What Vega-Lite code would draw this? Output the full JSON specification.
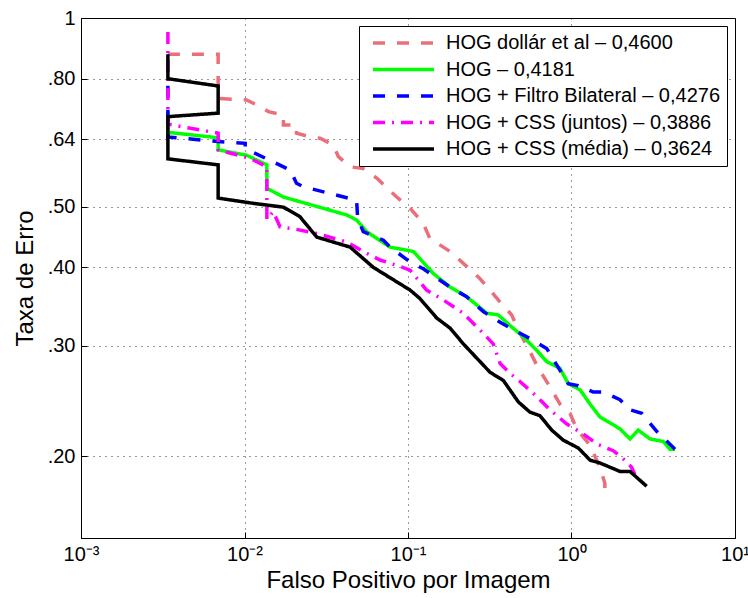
{
  "$schema": "https://vega.github.io/schema/vega-lite/v6.json",
  "width": 654,
  "height": 520,
  "autosize": {"type": "none"},
  "padding": {"left": 81, "top": 18, "right": 13, "bottom": 60},
  "background": "white",
  "config": {
    "font": "Liberation Sans",
    "view": {"stroke": "black", "strokeWidth": 1},
    "legend": {
      "orient": "top-right",
      "offset": 8,
      "padding": 6,
      "strokeColor": "black",
      "fillColor": "white",
      "symbolType": "stroke",
      "symbolSize": 3721,
      "symbolStrokeWidth": 3.5,
      "symbolOffset": 6,
      "clipHeight": 22,
      "labelFontSize": 20,
      "labelFont": "Liberation Sans",
      "labelColor": "black",
      "labelOffset": 10,
      "labelLimit": 500,
      "rowPadding": 4.5
    }
  },
  "data": {"values": [
    {"s": "HOG dollár et al – 0,4600", "i": 1, "x": 0.0034, "y": 0.875},
    {"s": "HOG dollár et al – 0,4600", "i": 2, "x": 0.0069, "y": 0.875},
    {"s": "HOG dollár et al – 0,4600", "i": 3, "x": 0.0069, "y": 0.744},
    {"s": "HOG dollár et al – 0,4600", "i": 4, "x": 0.0103, "y": 0.740},
    {"s": "HOG dollár et al – 0,4600", "i": 5, "x": 0.0125, "y": 0.722},
    {"s": "HOG dollár et al – 0,4600", "i": 6, "x": 0.0140, "y": 0.709},
    {"s": "HOG dollár et al – 0,4600", "i": 7, "x": 0.0173, "y": 0.700},
    {"s": "HOG dollár et al – 0,4600", "i": 8, "x": 0.0173, "y": 0.675},
    {"s": "HOG dollár et al – 0,4600", "i": 9, "x": 0.0208, "y": 0.675},
    {"s": "HOG dollár et al – 0,4600", "i": 10, "x": 0.0208, "y": 0.655},
    {"s": "HOG dollár et al – 0,4600", "i": 11, "x": 0.0252, "y": 0.646},
    {"s": "HOG dollár et al – 0,4600", "i": 12, "x": 0.0290, "y": 0.643},
    {"s": "HOG dollár et al – 0,4600", "i": 13, "x": 0.0349, "y": 0.627},
    {"s": "HOG dollár et al – 0,4600", "i": 14, "x": 0.0375, "y": 0.601},
    {"s": "HOG dollár et al – 0,4600", "i": 15, "x": 0.0442, "y": 0.579},
    {"s": "HOG dollár et al – 0,4600", "i": 16, "x": 0.0533, "y": 0.575},
    {"s": "HOG dollár et al – 0,4600", "i": 17, "x": 0.0646, "y": 0.555},
    {"s": "HOG dollár et al – 0,4600", "i": 18, "x": 0.0853, "y": 0.518},
    {"s": "HOG dollár et al – 0,4600", "i": 19, "x": 0.103, "y": 0.497},
    {"s": "HOG dollár et al – 0,4600", "i": 20, "x": 0.124, "y": 0.470},
    {"s": "HOG dollár et al – 0,4600", "i": 21, "x": 0.136, "y": 0.445},
    {"s": "HOG dollár et al – 0,4600", "i": 22, "x": 0.181, "y": 0.424},
    {"s": "HOG dollár et al – 0,4600", "i": 23, "x": 0.218, "y": 0.406},
    {"s": "HOG dollár et al – 0,4600", "i": 24, "x": 0.275, "y": 0.384},
    {"s": "HOG dollár et al – 0,4600", "i": 25, "x": 0.332, "y": 0.363},
    {"s": "HOG dollár et al – 0,4600", "i": 26, "x": 0.366, "y": 0.352},
    {"s": "HOG dollár et al – 0,4600", "i": 27, "x": 0.430, "y": 0.336},
    {"s": "HOG dollár et al – 0,4600", "i": 28, "x": 0.484, "y": 0.314},
    {"s": "HOG dollár et al – 0,4600", "i": 29, "x": 0.545, "y": 0.297},
    {"s": "HOG dollár et al – 0,4600", "i": 30, "x": 0.627, "y": 0.276},
    {"s": "HOG dollár et al – 0,4600", "i": 31, "x": 0.738, "y": 0.258},
    {"s": "HOG dollár et al – 0,4600", "i": 32, "x": 0.851, "y": 0.242},
    {"s": "HOG dollár et al – 0,4600", "i": 33, "x": 0.979, "y": 0.234},
    {"s": "HOG dollár et al – 0,4600", "i": 34, "x": 1.076, "y": 0.221},
    {"s": "HOG dollár et al – 0,4600", "i": 35, "x": 1.30, "y": 0.208},
    {"s": "HOG dollár et al – 0,4600", "i": 36, "x": 1.49, "y": 0.192},
    {"s": "HOG dollár et al – 0,4600", "i": 37, "x": 1.60, "y": 0.181},
    {"s": "HOG dollár et al – 0,4600", "i": 38, "x": 1.60, "y": 0.174},

    {"s": "HOG – 0,4181", "i": 1, "x": 0.0034, "y": 0.71},
    {"s": "HOG – 0,4181", "i": 2, "x": 0.0034, "y": 0.657},
    {"s": "HOG – 0,4181", "i": 3, "x": 0.0069, "y": 0.644},
    {"s": "HOG – 0,4181", "i": 4, "x": 0.0069, "y": 0.616},
    {"s": "HOG – 0,4181", "i": 5, "x": 0.0103, "y": 0.604},
    {"s": "HOG – 0,4181", "i": 6, "x": 0.0137, "y": 0.583},
    {"s": "HOG – 0,4181", "i": 7, "x": 0.0137, "y": 0.535},
    {"s": "HOG – 0,4181", "i": 8, "x": 0.0173, "y": 0.518},
    {"s": "HOG – 0,4181", "i": 9, "x": 0.0422, "y": 0.485},
    {"s": "HOG – 0,4181", "i": 10, "x": 0.0485, "y": 0.476},
    {"s": "HOG – 0,4181", "i": 11, "x": 0.0559, "y": 0.456},
    {"s": "HOG – 0,4181", "i": 12, "x": 0.0776, "y": 0.431},
    {"s": "HOG – 0,4181", "i": 13, "x": 0.108, "y": 0.424},
    {"s": "HOG – 0,4181", "i": 14, "x": 0.143, "y": 0.391},
    {"s": "HOG – 0,4181", "i": 15, "x": 0.181, "y": 0.372},
    {"s": "HOG – 0,4181", "i": 16, "x": 0.229, "y": 0.359},
    {"s": "HOG – 0,4181", "i": 17, "x": 0.303, "y": 0.338},
    {"s": "HOG – 0,4181", "i": 18, "x": 0.356, "y": 0.336},
    {"s": "HOG – 0,4181", "i": 19, "x": 0.421, "y": 0.323},
    {"s": "HOG – 0,4181", "i": 20, "x": 0.507, "y": 0.310},
    {"s": "HOG – 0,4181", "i": 21, "x": 0.612, "y": 0.295},
    {"s": "HOG – 0,4181", "i": 22, "x": 0.705, "y": 0.283},
    {"s": "HOG – 0,4181", "i": 23, "x": 0.851, "y": 0.276},
    {"s": "HOG – 0,4181", "i": 24, "x": 0.955, "y": 0.261},
    {"s": "HOG – 0,4181", "i": 25, "x": 1.13, "y": 0.255},
    {"s": "HOG – 0,4181", "i": 26, "x": 1.30, "y": 0.242},
    {"s": "HOG – 0,4181", "i": 27, "x": 1.49, "y": 0.231},
    {"s": "HOG – 0,4181", "i": 28, "x": 1.98, "y": 0.221},
    {"s": "HOG – 0,4181", "i": 29, "x": 2.28, "y": 0.213},
    {"s": "HOG – 0,4181", "i": 30, "x": 2.56, "y": 0.220},
    {"s": "HOG – 0,4181", "i": 31, "x": 3.02, "y": 0.213},
    {"s": "HOG – 0,4181", "i": 32, "x": 3.64, "y": 0.211},
    {"s": "HOG – 0,4181", "i": 33, "x": 4.00, "y": 0.205},
    {"s": "HOG – 0,4181", "i": 34, "x": 4.30, "y": 0.205},

    {"s": "HOG + Filtro Bilateral – 0,4276", "i": 1, "x": 0.0034, "y": 0.78},
    {"s": "HOG + Filtro Bilateral – 0,4276", "i": 2, "x": 0.0034, "y": 0.646},
    {"s": "HOG + Filtro Bilateral – 0,4276", "i": 3, "x": 0.0069, "y": 0.635},
    {"s": "HOG + Filtro Bilateral – 0,4276", "i": 4, "x": 0.0101, "y": 0.631},
    {"s": "HOG + Filtro Bilateral – 0,4276", "i": 5, "x": 0.0101, "y": 0.619},
    {"s": "HOG + Filtro Bilateral – 0,4276", "i": 6, "x": 0.0190, "y": 0.572},
    {"s": "HOG + Filtro Bilateral – 0,4276", "i": 7, "x": 0.0208, "y": 0.545},
    {"s": "HOG + Filtro Bilateral – 0,4276", "i": 8, "x": 0.0229, "y": 0.538},
    {"s": "HOG + Filtro Bilateral – 0,4276", "i": 9, "x": 0.0442, "y": 0.515},
    {"s": "HOG + Filtro Bilateral – 0,4276", "i": 10, "x": 0.0485, "y": 0.512},
    {"s": "HOG + Filtro Bilateral – 0,4276", "i": 11, "x": 0.0492, "y": 0.479},
    {"s": "HOG + Filtro Bilateral – 0,4276", "i": 12, "x": 0.0533, "y": 0.456},
    {"s": "HOG + Filtro Bilateral – 0,4276", "i": 13, "x": 0.0707, "y": 0.442},
    {"s": "HOG + Filtro Bilateral – 0,4276", "i": 14, "x": 0.0776, "y": 0.431},
    {"s": "HOG + Filtro Bilateral – 0,4276", "i": 15, "x": 0.103, "y": 0.408},
    {"s": "HOG + Filtro Bilateral – 0,4276", "i": 16, "x": 0.124, "y": 0.398},
    {"s": "HOG + Filtro Bilateral – 0,4276", "i": 17, "x": 0.181, "y": 0.372},
    {"s": "HOG + Filtro Bilateral – 0,4276", "i": 18, "x": 0.229, "y": 0.359},
    {"s": "HOG + Filtro Bilateral – 0,4276", "i": 19, "x": 0.289, "y": 0.340},
    {"s": "HOG + Filtro Bilateral – 0,4276", "i": 20, "x": 0.366, "y": 0.327},
    {"s": "HOG + Filtro Bilateral – 0,4276", "i": 21, "x": 0.484, "y": 0.314},
    {"s": "HOG + Filtro Bilateral – 0,4276", "i": 22, "x": 0.557, "y": 0.308},
    {"s": "HOG + Filtro Bilateral – 0,4276", "i": 23, "x": 0.705, "y": 0.297},
    {"s": "HOG + Filtro Bilateral – 0,4276", "i": 24, "x": 0.851, "y": 0.274},
    {"s": "HOG + Filtro Bilateral – 0,4276", "i": 25, "x": 0.955, "y": 0.261},
    {"s": "HOG + Filtro Bilateral – 0,4276", "i": 26, "x": 1.10, "y": 0.259},
    {"s": "HOG + Filtro Bilateral – 0,4276", "i": 27, "x": 1.36, "y": 0.253},
    {"s": "HOG + Filtro Bilateral – 0,4276", "i": 28, "x": 1.565, "y": 0.253},
    {"s": "HOG + Filtro Bilateral – 0,4276", "i": 29, "x": 1.98, "y": 0.246},
    {"s": "HOG + Filtro Bilateral – 0,4276", "i": 30, "x": 2.28, "y": 0.237},
    {"s": "HOG + Filtro Bilateral – 0,4276", "i": 31, "x": 2.69, "y": 0.234},
    {"s": "HOG + Filtro Bilateral – 0,4276", "i": 32, "x": 3.32, "y": 0.219},
    {"s": "HOG + Filtro Bilateral – 0,4276", "i": 33, "x": 4.30, "y": 0.205},

    {"s": "HOG + CSS (juntos) – 0,3886", "i": 1, "x": 0.0034, "y": 0.95},
    {"s": "HOG + CSS (juntos) – 0,3886", "i": 2, "x": 0.0034, "y": 0.677},
    {"s": "HOG + CSS (juntos) – 0,3886", "i": 3, "x": 0.0069, "y": 0.655},
    {"s": "HOG + CSS (juntos) – 0,3886", "i": 4, "x": 0.0069, "y": 0.616},
    {"s": "HOG + CSS (juntos) – 0,3886", "i": 5, "x": 0.0108, "y": 0.597},
    {"s": "HOG + CSS (juntos) – 0,3886", "i": 6, "x": 0.0137, "y": 0.579},
    {"s": "HOG + CSS (juntos) – 0,3886", "i": 7, "x": 0.0137, "y": 0.477},
    {"s": "HOG + CSS (juntos) – 0,3886", "i": 8, "x": 0.0150, "y": 0.491},
    {"s": "HOG + CSS (juntos) – 0,3886", "i": 9, "x": 0.0165, "y": 0.464},
    {"s": "HOG + CSS (juntos) – 0,3886", "i": 10, "x": 0.0208, "y": 0.460},
    {"s": "HOG + CSS (juntos) – 0,3886", "i": 11, "x": 0.0277, "y": 0.453},
    {"s": "HOG + CSS (juntos) – 0,3886", "i": 12, "x": 0.0422, "y": 0.439},
    {"s": "HOG + CSS (juntos) – 0,3886", "i": 13, "x": 0.0533, "y": 0.424},
    {"s": "HOG + CSS (juntos) – 0,3886", "i": 14, "x": 0.0675, "y": 0.411},
    {"s": "HOG + CSS (juntos) – 0,3886", "i": 15, "x": 0.0853, "y": 0.403},
    {"s": "HOG + CSS (juntos) – 0,3886", "i": 16, "x": 0.103, "y": 0.396},
    {"s": "HOG + CSS (juntos) – 0,3886", "i": 17, "x": 0.130, "y": 0.368},
    {"s": "HOG + CSS (juntos) – 0,3886", "i": 18, "x": 0.164, "y": 0.355},
    {"s": "HOG + CSS (juntos) – 0,3886", "i": 19, "x": 0.218, "y": 0.338},
    {"s": "HOG + CSS (juntos) – 0,3886", "i": 20, "x": 0.275, "y": 0.318},
    {"s": "HOG + CSS (juntos) – 0,3886", "i": 21, "x": 0.332, "y": 0.302},
    {"s": "HOG + CSS (juntos) – 0,3886", "i": 22, "x": 0.366, "y": 0.281},
    {"s": "HOG + CSS (juntos) – 0,3886", "i": 23, "x": 0.421, "y": 0.271},
    {"s": "HOG + CSS (juntos) – 0,3886", "i": 24, "x": 0.484, "y": 0.263},
    {"s": "HOG + CSS (juntos) – 0,3886", "i": 25, "x": 0.612, "y": 0.249},
    {"s": "HOG + CSS (juntos) – 0,3886", "i": 26, "x": 0.738, "y": 0.237},
    {"s": "HOG + CSS (juntos) – 0,3886", "i": 27, "x": 0.936, "y": 0.225},
    {"s": "HOG + CSS (juntos) – 0,3886", "i": 28, "x": 1.18, "y": 0.217},
    {"s": "HOG + CSS (juntos) – 0,3886", "i": 29, "x": 1.43, "y": 0.209},
    {"s": "HOG + CSS (juntos) – 0,3886", "i": 30, "x": 1.80, "y": 0.204},
    {"s": "HOG + CSS (juntos) – 0,3886", "i": 31, "x": 2.07, "y": 0.198},
    {"s": "HOG + CSS (juntos) – 0,3886", "i": 32, "x": 2.33, "y": 0.192},
    {"s": "HOG + CSS (juntos) – 0,3886", "i": 33, "x": 2.44, "y": 0.187},

    {"s": "HOG + CSS (média) – 0,3624", "i": 1, "x": 0.0034, "y": 0.875},
    {"s": "HOG + CSS (média) – 0,3624", "i": 2, "x": 0.0034, "y": 0.800},
    {"s": "HOG + CSS (média) – 0,3624", "i": 3, "x": 0.0069, "y": 0.779},
    {"s": "HOG + CSS (média) – 0,3624", "i": 4, "x": 0.0069, "y": 0.705},
    {"s": "HOG + CSS (média) – 0,3624", "i": 5, "x": 0.0034, "y": 0.696},
    {"s": "HOG + CSS (média) – 0,3624", "i": 6, "x": 0.0034, "y": 0.596},
    {"s": "HOG + CSS (média) – 0,3624", "i": 7, "x": 0.0069, "y": 0.583},
    {"s": "HOG + CSS (média) – 0,3624", "i": 8, "x": 0.0069, "y": 0.516},
    {"s": "HOG + CSS (média) – 0,3624", "i": 9, "x": 0.0108, "y": 0.507},
    {"s": "HOG + CSS (média) – 0,3624", "i": 10, "x": 0.0173, "y": 0.499},
    {"s": "HOG + CSS (média) – 0,3624", "i": 11, "x": 0.0218, "y": 0.482},
    {"s": "HOG + CSS (média) – 0,3624", "i": 12, "x": 0.0277, "y": 0.447},
    {"s": "HOG + CSS (média) – 0,3624", "i": 13, "x": 0.0442, "y": 0.431},
    {"s": "HOG + CSS (média) – 0,3624", "i": 14, "x": 0.0614, "y": 0.400},
    {"s": "HOG + CSS (média) – 0,3624", "i": 15, "x": 0.103, "y": 0.368},
    {"s": "HOG + CSS (média) – 0,3624", "i": 16, "x": 0.118, "y": 0.357},
    {"s": "HOG + CSS (média) – 0,3624", "i": 17, "x": 0.150, "y": 0.332},
    {"s": "HOG + CSS (média) – 0,3624", "i": 18, "x": 0.181, "y": 0.320},
    {"s": "HOG + CSS (média) – 0,3624", "i": 19, "x": 0.218, "y": 0.302},
    {"s": "HOG + CSS (média) – 0,3624", "i": 20, "x": 0.318, "y": 0.272},
    {"s": "HOG + CSS (média) – 0,3624", "i": 21, "x": 0.383, "y": 0.264},
    {"s": "HOG + CSS (média) – 0,3624", "i": 22, "x": 0.473, "y": 0.244},
    {"s": "HOG + CSS (média) – 0,3624", "i": 23, "x": 0.557, "y": 0.235},
    {"s": "HOG + CSS (média) – 0,3624", "i": 24, "x": 0.641, "y": 0.232},
    {"s": "HOG + CSS (média) – 0,3624", "i": 25, "x": 0.757, "y": 0.220},
    {"s": "HOG + CSS (média) – 0,3624", "i": 26, "x": 0.891, "y": 0.212},
    {"s": "HOG + CSS (média) – 0,3624", "i": 27, "x": 1.10, "y": 0.206},
    {"s": "HOG + CSS (média) – 0,3624", "i": 28, "x": 1.30, "y": 0.197},
    {"s": "HOG + CSS (média) – 0,3624", "i": 29, "x": 1.49, "y": 0.195},
    {"s": "HOG + CSS (média) – 0,3624", "i": 30, "x": 1.98, "y": 0.189},
    {"s": "HOG + CSS (média) – 0,3624", "i": 31, "x": 2.28, "y": 0.189},
    {"s": "HOG + CSS (média) – 0,3624", "i": 32, "x": 2.88, "y": 0.179}
  ]},
  "mark": {"type": "line", "strokeWidth": 3.5, "clip": true, "strokeJoin": "miter"},
  "encoding": {
    "x": {
      "field": "x", "type": "quantitative",
      "scale": {"type": "log", "domain": [0.001, 10], "nice": false},
      "axis": {
        "values": [0.001, 0.01, 0.1, 1, 10],
        "labelExpr": "datum.value < 0.005 ? '10⁻³' : datum.value < 0.05 ? '10⁻²' : datum.value < 0.5 ? '10⁻¹' : datum.value < 5 ? '10⁰' : '10¹'",
        "labelFlush": false,
        "labelOverlap": false,
        "labelFontSize": 20,
        "labelColor": "black",
        "labelPadding": 12,
        "grid": true,
        "gridColor": "black",
        "gridDash": [1, 5],
        "gridOpacity": 0.8,
        "domainColor": "black",
        "tickColor": "black",
        "tickSize": -6,
        "title": "Falso Positivo por Imagem",
        "titleFontSize": 24,
        "titleFontWeight": "normal",
        "titleColor": "black",
        "titlePadding": 4
      }
    },
    "y": {
      "field": "y", "type": "quantitative",
      "scale": {"type": "log", "domain": [0.148, 1], "nice": false},
      "axis": {
        "values": [0.2, 0.3, 0.4, 0.5, 0.64, 0.8, 1],
        "labelExpr": "datum.value >= 1 ? '1' : replace(format(datum.value, '.2f'), '0.', '.')",
        "labelFontSize": 20,
        "labelColor": "black",
        "labelPadding": 12,
        "labelOverlap": false,
        "grid": true,
        "gridColor": "black",
        "gridDash": [1, 5],
        "gridOpacity": 0.8,
        "domainColor": "black",
        "tickColor": "black",
        "tickSize": -6,
        "title": "Taxa de Erro",
        "titleFontSize": 24,
        "titleFontWeight": "normal",
        "titleColor": "black",
        "titlePadding": 10
      }
    },
    "color": {
      "field": "s", "type": "nominal", "title": null,
      "scale": {
        "domain": ["HOG dollár et al – 0,4600", "HOG – 0,4181", "HOG + Filtro Bilateral – 0,4276", "HOG + CSS (juntos) – 0,3886", "HOG + CSS (média) – 0,3624"],
        "range": ["#EB6F7A", "#00FF00", "#0000FF", "#FF00FF", "#000000"]
      }
    },
    "strokeDash": {
      "field": "s", "type": "nominal", "title": null,
      "scale": {
        "domain": ["HOG dollár et al – 0,4600", "HOG – 0,4181", "HOG + Filtro Bilateral – 0,4276", "HOG + CSS (juntos) – 0,3886", "HOG + CSS (média) – 0,3624"],
        "range": [[12, 12], [1, 0], [12, 12], [12, 7, 2, 7], [1, 0]]
      }
    },
    "order": {"field": "i", "type": "quantitative"}
  }
}
